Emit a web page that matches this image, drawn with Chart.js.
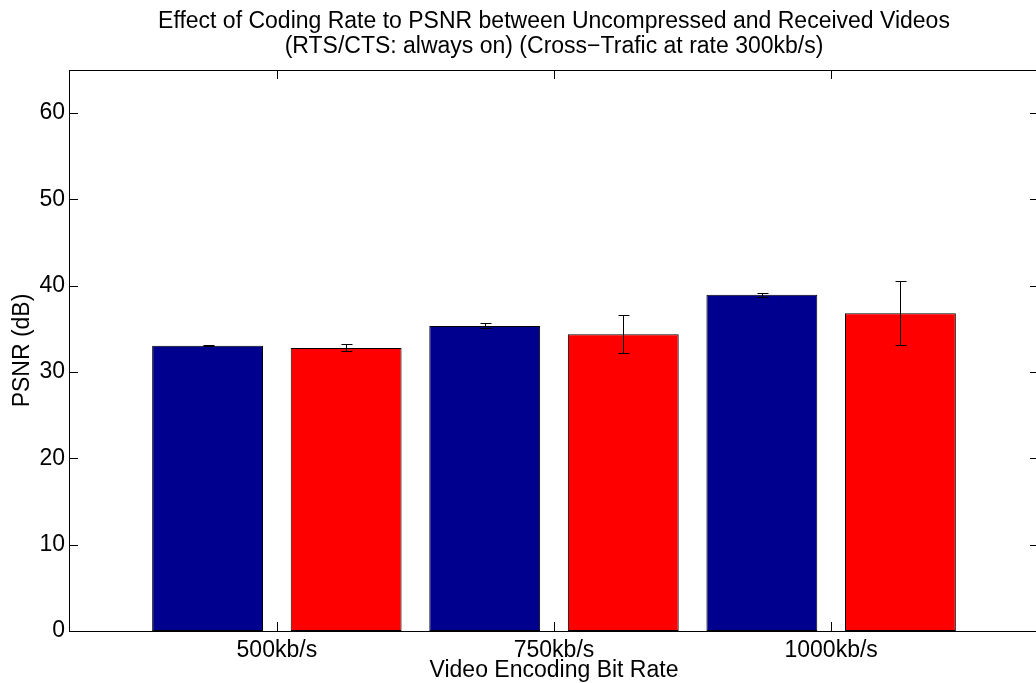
<!DOCTYPE html>
<html>
<head>
<meta charset="utf-8">
<script src="https://cdn.jsdelivr.net/npm/chart.js@4/dist/chart.umd.min.js"></script>
<style>
    html, body { margin: 0; padding: 0; background: #fff; overflow: hidden; }
</style>
</head>
<body>
<canvas id="graphPsnr" width="1042" height="683"></canvas>
<script>
// ==== Data ====
var rates = ['500kb/s', '750kb/s', '1000kb/s']
var psnrBlue = [33.05, 35.35, 38.95]
var errBlue = [0.05, 0.3, 0.25]
var psnrRed = [32.8, 34.38, 36.82]
var errRed = [0.4, 2.2, 3.68]
var yTicks = [0, 10, 20, 30, 40, 50, 60]

// bars sit at x = 1, 2, 3 (like matlab's bar())
function toPoints(values){
    var pts = []
    for(i in values){
        pts.push({ x: Number(i) + 1, y: values[i] })
    }
    return pts
}

// ==== Plugin: error bars, drawn from the bar elements + y scale ====
var errorBars = {
    id: 'errorBars',
    afterDatasetsDraw: function(chart){
        var ctx = chart.ctx
        var yScale = chart.scales.y
        var errs = [errBlue, errRed]
        ctx.save()
        ctx.strokeStyle = '#000'
        ctx.lineWidth = 1
        chart.data.datasets.forEach(function(ds, d){
            var meta = chart.getDatasetMeta(d)
            meta.data.forEach(function(bar, i){
                var v = ds.data[i].y
                var x = Math.round(bar.x) + 0.5
                var top = Math.round(yScale.getPixelForValue(v + errs[d][i])) + 0.5
                var bot = Math.round(yScale.getPixelForValue(v - errs[d][i])) + 0.5
                ctx.beginPath()
                ctx.moveTo(x, top); ctx.lineTo(x, bot)
                ctx.moveTo(x - 5, top); ctx.lineTo(x + 6, top)
                ctx.moveTo(x - 5, bot); ctx.lineTo(x + 6, bot)
                ctx.stroke()
            })
        })
        ctx.restore()
    }
}

// ==== Plugin: matlab style box with inward ticks ====
var matlabBox = {
    id: 'matlabBox',
    afterDraw: function(chart){
        var ctx = chart.ctx
        var a = chart.chartArea
        var xs = chart.scales.x
        var ys = chart.scales.y
        var len = 9
        ctx.save()
        ctx.strokeStyle = '#000'
        ctx.lineWidth = 1
        ctx.strokeRect(Math.round(a.left) + 0.5, Math.round(a.top) + 0.5,
                       Math.round(a.right - a.left), Math.round(a.bottom - a.top))
        ctx.beginPath()
        yTicks.forEach(function(t){
            var y = Math.round(ys.getPixelForValue(t)) + 0.5
            ctx.moveTo(a.left, y); ctx.lineTo(a.left + len, y)
            ctx.moveTo(a.right, y); ctx.lineTo(a.right - len, y)
        })
        rates.forEach(function(r, i){
            var x = Math.round(xs.getPixelForValue(i + 1)) + 0.5
            ctx.moveTo(x, a.bottom); ctx.lineTo(x, a.bottom - len)
            ctx.moveTo(x, a.top); ctx.lineTo(x, a.top + len)
        })
        ctx.stroke()
        ctx.restore()
    }
}

Chart.defaults.font.family = "'Liberation Sans', Arial, sans-serif"
Chart.defaults.font.size = 23
Chart.defaults.color = '#000'

// ==== Config Graph ====
var config = {
    type: 'bar',
    data: {
        datasets: [{
            data: toPoints(psnrBlue),
            backgroundColor: '#00008f',
            borderColor: '#000',
            borderWidth: 1,
            borderSkipped: false,
        }, {
            data: toPoints(psnrRed),
            backgroundColor: '#ff0000',
            borderColor: '#000',
            borderWidth: 1,
            borderSkipped: false,
        }],
    },
    options: {
        responsive: false,
        animation: false,
        devicePixelRatio: 1,
        categoryPercentage: 1.0,
        barPercentage: 0.8,
        layout: {
            padding: { top: 0, bottom: 0, left: 0, right: 3 },
        },
        plugins: {
            legend: false,
            tooltip: { enabled: false },
            title: {
                display: true,
                fullSize: false, // centre over the axes like matlab
                text: ['Effect of Coding Rate to PSNR between Uncompressed and Received Videos',
                       '(RTS/CTS: always on) (Cross\u2212Trafic at rate 300kb/s)'],
                font: { size: 23, weight: 'normal', lineHeight: '25px' },
                padding: { top: 9, bottom: 11 },
            },
        },
        scales: {
            x: {
                type: 'linear',
                min: 0.25,
                max: 3.75,
                offset: false,
                grid: { display: false, drawTicks: false },
                border: { display: false },
                afterBuildTicks: function(axis){
                    axis.ticks = rates.map(function(r, i){ return { value: i + 1 } })
                },
                afterFit: function(axis){ axis.height = 52 },
                ticks: {
                    padding: 6,
                    maxRotation: 0,
                    callback: function(v){ return rates[v - 1] },
                },
                title: {
                    display: true,
                    text: 'Video Encoding Bit Rate',
                    font: { lineHeight: 1.1 },
                    padding: { top: 0, bottom: 0 },
                },
            },
            y: {
                min: 0,
                max: 65,
                grid: { display: false, drawTicks: false },
                border: { display: false },
                afterBuildTicks: function(axis){
                    axis.ticks = yTicks.map(function(t){ return { value: t } })
                },
                afterFit: function(axis){ axis.width = 69 },
                ticks: { padding: 4 },
                title: {
                    display: true,
                    text: 'PSNR (dB)',
                    padding: { top: 9, bottom: 0 },
                },
            },
        },
    },
    plugins: [errorBars, matlabBox],
}

const PSNRgraph = document.getElementById('graphPsnr').getContext('2d');
new Chart(PSNRgraph, config)
</script>
</body>
</html>
